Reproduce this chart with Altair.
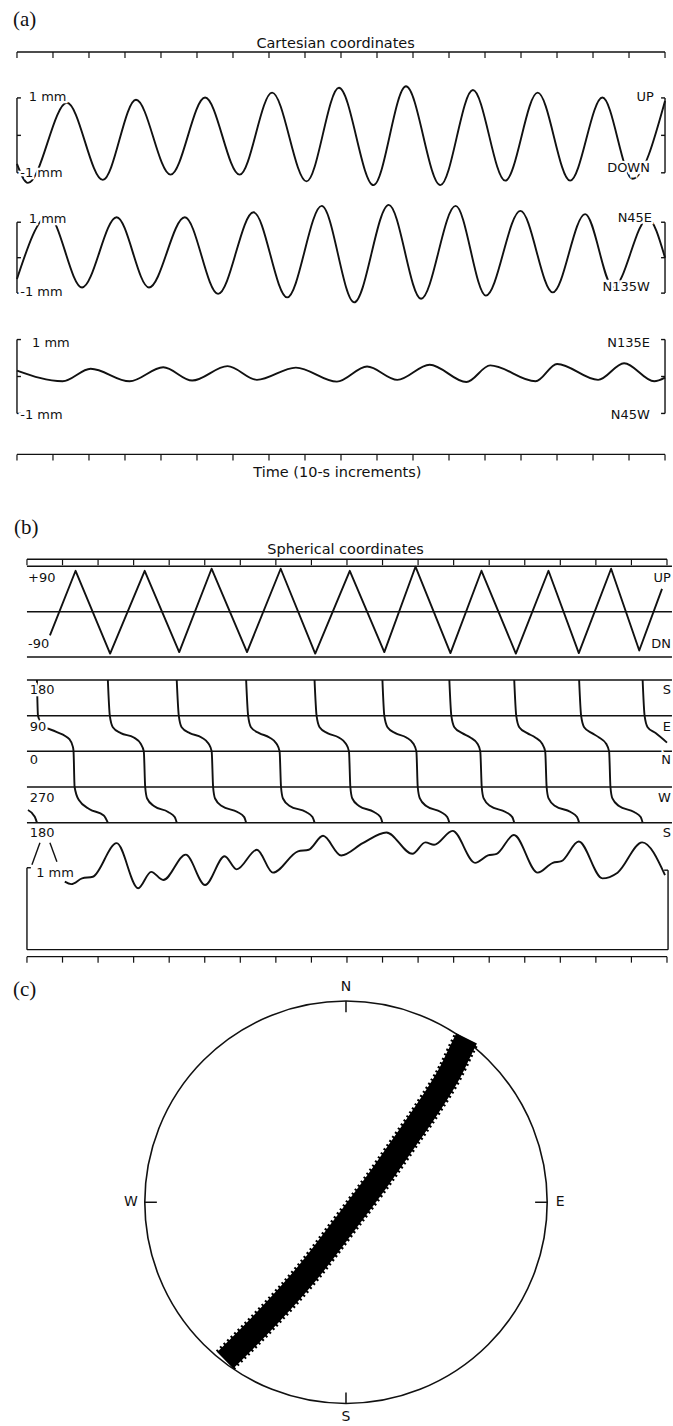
import altair as alt
import pandas as pd

# ------------------------------------------------------------------ data
TIME_TICKS = [0, 10, 20, 30, 40, 50, 60, 70, 80, 90, 100, 110, 120, 130, 140, 150, 160, 170, 180]

# (a) Cartesian traces: time (s) / displacement (mm)
UP_T = [0, 3.05, 13.87, 23.85, 33.06, 42.66, 52.25, 61.85, 70.86, 80.43, 89.44, 99.01,
        108.05, 117.6, 126.64, 135.62, 144.63, 153.65, 162.61, 171.01, 180]
UP_MM = [-0.76, -1.27, 0.87, -1.19, 0.95, -1.05, 1.01, -1.05, 1.14, -1.23, 1.27, -1.33,
         1.31, -1.33, 1.21, -1.21, 1.14, -1.21, 1.01, -1.16, 0.92]

N45E_T = [0, 8.71, 18.08, 27.68, 36.67, 46.62, 55.86, 65.7, 75.05, 84.65, 93.66, 103.26,
          112.24, 121.84, 130.24, 139.84, 148.82, 157.81, 165.63, 175.23, 180]
N45E_MM = [-0.6, 1.18, -0.84, 1.14, -0.84, 1.14, -1.02, 1.28, -1.12, 1.46, -1.26, 1.49,
           -1.16, 1.46, -1.07, 1.32, -0.98, 1.23, -0.84, 1.10, 0.0]

N135E_T = [0, 12.67, 20.47, 31.28, 40.63, 48.67, 58.49, 66.65, 77.46, 88.86, 97.24, 105.64,
           114.63, 124.83, 131.44, 144.03, 150.02, 161.42, 168.63, 177.0, 180]
N135E_MM = [0.16, -0.13, 0.21, -0.13, 0.25, -0.11, 0.28, -0.09, 0.24, -0.14, 0.27, -0.09,
            0.32, -0.15, 0.30, -0.13, 0.34, -0.09, 0.36, -0.13, -0.03]

# (b) spherical: inclination (deg)
INC_T = [6.46, 13.68, 23.39, 33.11, 42.82, 51.92, 61.89, 71.36, 81.07, 90.79, 100.5, 109.27,
         119.1, 127.83, 137.5, 146.67, 155.2, 164.28, 172.2, 178.6]
INC_DEG = [-47, 81, -83, 81, -80, 85, -80, 85, -83, 81, -80, 89, -82, 81, -83, 81, -82, 85, -77, 45]

# (b) azimuth (deg), one list per wrap-around sweep
AZ_SEGMENTS = [
    [(0.28, -148), (2.2, -165), (2.81, -180)],
    [(2.81, 180), (3.1, 90), (4.5, 65), (8.1, 50), (12.0, 30), (12.9, 12), (13.1, 0), (13.4, -90),
     (14.6, -123), (17.6, -146), (21.6, -162), (22.75, -180)],
    [(22.75, 180), (23.3, 90), (24.15, 61), (26.4, 46), (30.05, 35), (32.0, 19), (32.86, 0), (33.25, -90),
     (33.8, -119), (35.7, -138), (39.7, -153), (41.55, -166), (42.12, -180)],
    [(42.12, 180), (42.7, 90), (43.5, 61), (45.8, 46), (49.1, 35), (51.1, 19), (51.95, 0), (52.35, -90),
     (52.9, -119), (54.8, -138), (59.2, -153), (61.1, -166), (61.64, -180)],
    [(61.64, 180), (62.2, 90), (63.0, 61), (65.3, 46), (68.2, 35), (70.2, 19), (71.05, 0), (71.45, -90),
     (72.0, -119), (73.9, -138), (78.5, -153), (80.3, -166), (80.88, -180)],
    [(80.88, 180), (81.45, 90), (82.3, 61), (84.5, 46), (87.7, 35), (89.7, 19), (90.56, 0), (90.95, -90),
     (91.5, -119), (93.4, -138), (97.6, -153), (99.4, -166), (99.97, -180)],
    [(99.97, 180), (100.5, 90), (101.4, 61), (103.6, 46), (106.7, 35), (108.7, 19), (109.52, 0), (109.9, -90),
     (110.5, -119), (112.3, -138), (116.4, -153), (118.2, -166), (118.79, -180)],
    [(118.79, 180), (119.35, 90), (120.2, 61), (122.4, 46), (124.7, 35), (126.7, 19), (127.49, 0), (127.9, -90),
     (128.45, -119), (130.3, -138), (134.6, -153), (136.5, -166), (137.04, -180)],
    [(137.04, 180), (137.6, 90), (138.45, 61), (140.7, 46), (142.95, 35), (144.9, 19), (145.75, 0), (146.15, -90),
     (146.7, -119), (148.55, -138), (152.9, -153), (154.7, -166), (155.29, -180)],
    [(155.29, 180), (155.85, 90), (156.7, 61), (158.9, 46), (160.9, 35), (162.9, 19), (163.72, 0), (164.1, -90),
     (164.65, -119), (166.5, -138), (170.75, -153), (172.6, -166), (173.15, -180)],
    [(173.15, 180), (173.7, 90), (174.55, 61), (176.8, 46), (180, 22)],
]

# (b) radial amplitude (mm)
RAD_T = [10.64, 12.47, 15.5, 18.53, 25.22, 31.28, 34.93, 38.33, 44.65, 50.1, 55.6, 58.97, 64.67,
         69.17, 76.21, 79.25, 83.26, 88.37, 94.44, 101.1, 108.4, 112.05, 114.5, 119.7, 126.03,
         129.65, 132.1, 136.96, 143.64, 147.88, 150.32, 155.18, 161.83, 166.1, 173.02, 179.44]
RAD_MM = [0.83, 0.80, 0.87, 0.89, 1.30, 0.75, 0.95, 0.85, 1.16, 0.79, 1.14, 0.98, 1.22,
          0.94, 1.20, 1.22, 1.39, 1.15, 1.30, 1.43, 1.17, 1.31, 1.28, 1.45, 1.06,
          1.15, 1.17, 1.40, 0.94, 1.06, 1.08, 1.32, 0.87, 0.94, 1.31, 0.91]

# (c) stereonet band centre line (unit-circle coords)
BAND_U = [-0.600, -0.413, -0.190, 0.001, 0.140, 0.299, 0.414, 0.522, 0.575, 0.600]
BAND_V = [-0.785, -0.597, -0.349, -0.101, 0.084, 0.311, 0.478, 0.655, 0.765, 0.815]

# ------------------------------------------------------------------ helpers
INK = "#111111"
FONT = "DejaVu Sans"
SERIF = "Liberation Serif"
W = 673

XA = [-4.715, 181.94]     # panel (a) time scale incl. margins
XB = [-7.582, 181.41]     # panel (b)
XC = [-1.7196, 1.6203]    # panel (c)
YC = [-1.1067, 1.1811]


def sc(dom):
    return alt.Scale(domain=dom, nice=False, zero=False)


def xq(f, d):
    return alt.X(f, type="quantitative", scale=sc(d), axis=None)


def yq(f, d):
    return alt.Y(f, type="quantitative", scale=sc(d), axis=None)


def segs(rows, xd, yd, sw=1.4):
    df = pd.DataFrame(rows, columns=["t0", "t1", "v0", "v1"])
    return alt.Chart(df).mark_rule(color=INK, strokeWidth=sw).encode(
        x=xq("t0", xd), x2=alt.X2("t1"), y=yq("v0", yd), y2=alt.Y2("v1"))


def texts(rows, xd, yd, align, size=13, halo=False):
    df = pd.DataFrame(rows, columns=["t", "v", "label"])
    enc = dict(x=xq("t", xd), y=yq("v", yd), text=alt.Text("label:N"))
    fg = alt.Chart(df).mark_text(align=align, baseline="middle", font=FONT,
                                 fontSize=size, color=INK).encode(**enc)
    if not halo:
        return fg
    bg = alt.Chart(df).mark_text(align=align, baseline="middle", font=FONT, fontSize=size,
                                 color="white", stroke="white", strokeWidth=4.5).encode(**enc)
    return alt.layer(bg, fg)


def trace(t, v, xd, yd, interp="monotone", sw=1.9):
    df = pd.DataFrame({"t": t, "v": v})
    return alt.Chart(df).mark_line(color=INK, strokeWidth=sw, interpolate=interp,
                                   strokeJoin="round").encode(x=xq("t", xd), y=yq("v", yd))


def hline_px(t0, t1, ypx, xd, sw=1.4):
    df = pd.DataFrame({"t0": [t0], "t1": [t1]})
    return alt.Chart(df).mark_rule(color=INK, strokeWidth=sw).encode(
        x=xq("t0", xd), x2=alt.X2("t1"), y=alt.value(ypx))


def ticks_px(y0, y1, xd):
    df = pd.DataFrame({"t": TIME_TICKS})
    return alt.Chart(df).mark_rule(color=INK, strokeWidth=1.2).encode(
        x=xq("t", xd), y=alt.value(y0), y2=alt.value(y1))


def text_px(t, ypx, label, xd, size=14.5):
    df = pd.DataFrame({"t": [t], "label": [label]})
    return alt.Chart(df).mark_text(align="center", baseline="middle", font=FONT,
                                   fontSize=size, color=INK).encode(
        x=xq("t", xd), y=alt.value(ypx), text=alt.Text("label:N"))


def panel_tag(label, xpx, ypx):
    df = pd.DataFrame({"label": [label]})
    return alt.Chart(df).mark_text(align="left", baseline="middle", font=SERIF,
                                   fontSize=21, color=INK).encode(
        x=alt.value(xpx), y=alt.value(ypx), text=alt.Text("label:N"))


def brackets(xd, yd, lo=-1, hi=1, mid=0, left=0, right=180, hook=1.1):
    return segs([
        (left, left, lo, hi), (left, left + hook, hi, hi), (left, left + hook, lo, lo),
        (left, left + hook, mid, mid),
        (right, right, lo, hi), (right - hook, right, hi, hi), (right - hook, right, lo, lo),
        (right - hook, right, mid, mid)], xd, yd)


def row(layers, h):
    return alt.layer(*layers).properties(width=W, height=h)


# ------------------------------------------------------------------ panel (a)
a0 = row([
    panel_tag("(a)", 13, 19),
    text_px(88.5, 43, "Cartesian coordinates", XA),
    hline_px(0, 180, 51, XA),
    ticks_px(51, 57, XA),
], 62)

YA1 = [-1.6133, 1.9333]
a1 = row([
    brackets(XA, YA1),
    trace(UP_T, UP_MM, XA, YA1),
    texts([(3.3, 1.03, "1 mm"), (0.9, -1.0, "-1 mm")], XA, YA1, "left", halo=True),
    texts([(176.9, 1.03, "UP"), (175.8, -0.88, "DOWN")], XA, YA1, "right", halo=True),
], 133)

YA2 = [-1.9155, 1.7465]
a2 = row([
    brackets(XA, YA2),
    trace(N45E_T, N45E_MM, XA, YA2),
    texts([(3.3, 1.08, "1 mm"), (0.9, -0.98, "-1 mm")], XA, YA2, "left", halo=True),
    texts([(176.4, 1.12, "N45E"), (175.8, -0.84, "N135W")], XA, YA2, "right", halo=True),
], 130)

YA3 = [-1.4595, 1.3784]
a3 = row([
    brackets(XA, YA3),
    trace(N135E_T, N135E_MM, XA, YA3),
    texts([(4.2, 0.9, "1 mm"), (0.9, -1.05, "-1 mm")], XA, YA3, "left", halo=True),
    texts([(175.8, 0.9, "N135E"), (175.8, -1.05, "N45W")], XA, YA3, "right", halo=True),
], 105)

a4 = row([
    hline_px(0, 180, 24, XA),
    ticks_px(24, 30, XA),
    text_px(89, 43, "Time (10-s increments)", XA),
], 70)

# ------------------------------------------------------------------ panel (b)
b0 = row([
    panel_tag("(b)", 14, 28),
    text_px(89.6, 50, "Spherical coordinates", XB),
    hline_px(0, 180, 59, XB),
    ticks_px(59, 65, XB),
], 66)

YB1 = [-111.7, 90]
b1 = row([
    segs([(0, 181.4, 90, 90), (0, 181.4, 0, 0), (0, 181.4, -90, -90)], XB, YB1, sw=1.5),
    trace(INC_T, INC_DEG, XB, YB1, interp="linear"),
    texts([(0.3, 66, "+90"), (0.3, -64, "-90")], XB, YB1, "left", halo=True),
    texts([(181.1, 66, "UP"), (181.1, -64, "DN")], XB, YB1, "right", halo=True),
], 102)

YB2 = [-210.7, 210.2]
az_rows = []
for k, seg in enumerate(AZ_SEGMENTS):
    for t, a in seg:
        az_rows.append({"t": t, "v": a, "seg": k})
az_df = pd.DataFrame(az_rows)
az_line = alt.Chart(az_df).mark_line(color=INK, strokeWidth=1.9, interpolate="monotone").encode(
    x=xq("t", XB), y=yq("v", YB2), detail="seg:N")
b2 = row([
    segs([(0, 181.4, v, v) for v in (180, 90, 0, -90, -180)], XB, YB2, sw=1.5),
    az_line,
    texts([(0.8, 155, "180"), (0.8, 62, "90"), (0.8, -23, "0"), (0.8, -118, "270"),
           (0.8, -206, "180")], XB, YB2, "left", halo=True),
    texts([(181.1, 155, "S"), (181.1, 62, "E"), (181.1, -23, "N"), (181.1, -118, "W"),
           (181.1, -206, "S")], XB, YB2, "right", halo=True),
], 167)

YB3 = [-0.183, 1.402]
b3 = row([
    segs([(0, 180.3, 0, 0), (0, 0, 0, 1.0), (0, 1.1, 1.0, 1.0),
          (180.3, 180.3, 0, 0.97), (179.2, 180.3, 0.97, 0.97),
          (3.65, 1.4, 1.305, 1.037), (6.46, 8.42, 1.305, 1.073)], XB, YB3),
    trace(RAD_T, RAD_MM, XB, YB3),
    texts([(2.6, 0.94, "1 mm")], XB, YB3, "left", halo=True),
    hline_px(0, 180, 122, XB),
    ticks_px(122, 128, XB),
], 130)

# ------------------------------------------------------------------ panel (c)
circle = alt.Chart(pd.DataFrame({"u": [0.0], "v": [0.0]})).mark_point(
    shape="circle", filled=False, size=403 * 403, strokeWidth=1.6, color=INK, opacity=1
).encode(x=xq("u", XC), y=yq("v", YC))

band_df = pd.DataFrame({"u": BAND_U, "v": BAND_V})
band = alt.Chart(band_df).mark_line(color="#000000", strokeWidth=23, strokeCap="butt",
                                    interpolate="monotone").encode(
    x=xq("u", XC), y=yq("v", YC))
band_edge = alt.Chart(band_df).mark_line(color="#000000", strokeWidth=27, strokeCap="butt",
                                         strokeDash=[2, 3], interpolate="monotone").encode(
    x=xq("u", XC), y=yq("v", YC))

cticks = segs([(0, 0, 1, 0.945), (0, 0, -1, -0.945), (-1, -0.94, 0, 0), (1, 0.94, 0, 0)], XC, YC, sw=1.5)

c = row([
    panel_tag("(c)", 13, 25),
    circle,
    band_edge,
    band,
    cticks,
    texts([(0, 1.072, "N"), (0, -1.067, "S")], XC, YC, "center", size=14),
    texts([(-1.035, 0, "W")], XC, YC, "right", size=14),
    texts([(1.043, 0, "E")], XC, YC, "left", size=14),
], 461)

chart = alt.vconcat(a0, a1, a2, a3, a4, b0, b1, b2, b3, c, spacing=0, bounds="flush").properties(
    padding=0
).configure_view(stroke=None)

chart.save("out.html", embed_options={"renderer": "svg", "actions": False})
